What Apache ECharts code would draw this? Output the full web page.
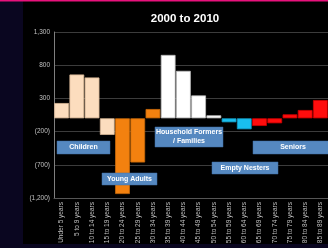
<!DOCTYPE html>
<html>
<head>
<meta charset="utf-8">
<script src="https://cdn.jsdelivr.net/npm/echarts@6/dist/echarts.min.js"></script>
<style>
html,body{margin:0;padding:0;background:#000;}
#c{width:328px;height:248px;}
</style>
</head>
<body>
<div id="c"></div>
<script>
const categories = ['Under 5 years','5 to 9 years','10 to 14 years','15 to 19 years','20 to 24 years','25 to 29 years','30 to 34 years','35 to 39 years','40 to 44 years','45 to 49 years','50 to 54 years','55 to 59 years','60 to 64 years','65 to 69 years','70 to 74 years','75 to 79 years','80 to 84 years','85 to 89 years'];
const values = [230, 660, 615, -250, -1140, -665, 140, 955, 715, 345, 45, -60, -165, -115, -75, 60, 125, 275];
const groups = ['children','children','children','children','young','young','young','household','household','household','household','empty','empty','seniors','seniors','seniors','seniors','seniors'];
const yTicks = [-1200, -700, -200, 300, 800, 1300];

const groupColors = {
  children: ['#FCDDBE', '#D8B896'],
  young: ['#F3810F', '#C8690A'],
  household: ['#FFFFFF', '#BFBFBF'],
  empty: ['#19BFEF', '#1398C0'],
  seniors: ['#FF0D0D', '#D00000']
};

function fmt(v) {
  const s = Math.abs(v).toLocaleString('en-US');
  return v < 0 ? '(' + s + ')' : s;
}

const chart = echarts.init(document.getElementById('c'), null, {renderer: 'canvas'});

function box(x, y, w, h, text) {
  return {
    type: 'group', x: x, y: y, z: 100,
    children: [
      {type: 'rect', z: 100, shape: {x: 0, y: 0, width: w, height: h}, style: {fill: '#5588C0', stroke: '#3F6FA5', lineWidth: 0.5}},
      {type: 'text', z: 101, x: w / 2, y: h / 2, style: {text: text, fill: '#FFFFFF', font: 'bold 7px "Liberation Sans", sans-serif', align: 'center', verticalAlign: 'middle', lineHeight: 9}}
    ]
  };
}

chart.setOption({
  backgroundColor: '#000000',
  animation: false,
  title: {
    text: '2000 to 2010', left: 180, top: 8, textAlign: 'center',
    textStyle: {color: '#FFFFFF', fontSize: 11.5, fontWeight: 'bold', fontFamily: 'Liberation Sans'}
  },
  grid: {left: 54, right: -1, top: 32, bottom: 50},
  xAxis: {
    type: 'category', data: categories,
    axisLine: {onZero: false, lineStyle: {color: '#555555'}},
    axisTick: {show: false},
    axisLabel: {rotate: 90, interval: 0, fontSize: 6.5, color: '#C0C0C0', margin: 4, fontFamily: 'Liberation Sans'}
  },
  yAxis: {
    type: 'value', min: yTicks[0], max: yTicks[yTicks.length - 1], interval: 500,
    axisLine: {show: true, lineStyle: {color: '#7F7F7F'}},
    axisTick: {show: false},
    splitLine: {lineStyle: {color: '#3C3C3C', width: 1}},
    axisLabel: {formatter: fmt, fontSize: 6.5, color: '#C0C0C0', margin: 4, fontFamily: 'Liberation Sans'}
  },
  series: [{
    type: 'bar',
    z: 2,
    barCategoryGap: '3%',
    data: values.map((v, i) => ({
      value: v,
      itemStyle: {color: groupColors[groups[i]][0], borderColor: groupColors[groups[i]][1], borderWidth: 0.8}
    }))
  }],
  graphic: [
    {type: 'rect', z: 90, shape: {x: 0, y: 0, width: 23, height: 248}, style: {fill: '#0A0620'}},
    {type: 'rect', z: 90, shape: {x: 0, y: 244, width: 328, height: 4}, style: {fill: '#0A0620'}},
    {type: 'rect', z: 91, shape: {x: 0, y: 0, width: 328, height: 1.5}, style: {fill: '#E8127C'}},
    box(57, 141, 53, 13, 'Children'),
    box(102, 173, 55, 12, 'Young Adults'),
    box(155, 127, 68, 20, 'Household Formers\n/ Families'),
    box(212, 162, 66, 12, 'Empty Nesters'),
    box(253, 141, 80, 13, 'Seniors')
  ]
});
</script>
</body>
</html>
